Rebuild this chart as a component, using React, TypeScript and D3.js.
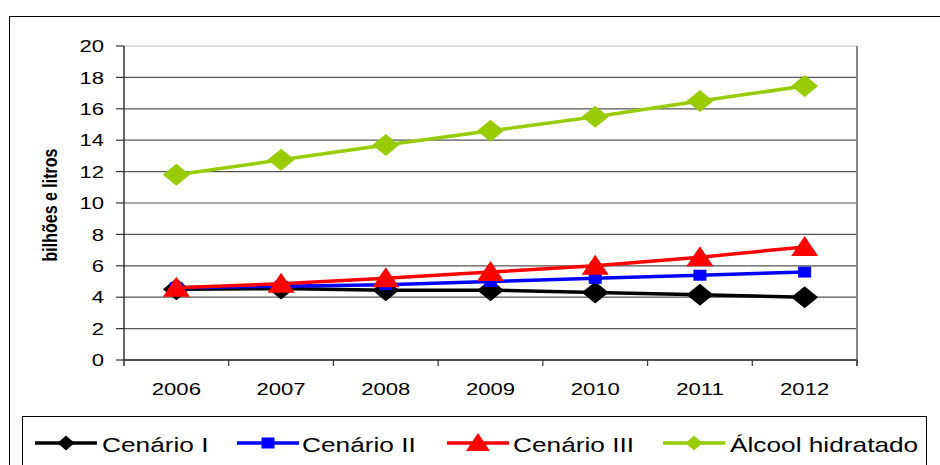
import React from 'react';
import * as d3 from 'd3';

const years = ['2006', '2007', '2008', '2009', '2010', '2011', '2012'];
const cenarioI = [4.5, 4.55, 4.45, 4.45, 4.3, 4.15, 4.0];
const cenarioII = [4.6, 4.7, 4.8, 5.0, 5.2, 5.4, 5.6];
const cenarioIII = [4.6, 4.85, 5.2, 5.6, 6.0, 6.55, 7.2];
const alcool = [11.8, 12.75, 13.7, 14.6, 15.5, 16.5, 17.45];
const yTicks = [0, 2, 4, 6, 8, 10, 12, 14, 16, 18, 20];

const series = [
  { name: 'Cenário I', values: cenarioI, color: '#000000', marker: 'diamond' },
  { name: 'Cenário II', values: cenarioII, color: '#0000ff', marker: 'square' },
  { name: 'Cenário III', values: cenarioIII, color: '#ff0000', marker: 'triangle' },
  { name: 'Álcool hidratado', values: alcool, color: '#99cc00', marker: 'diamond' },
];

const font = "'Liberation Sans', Arial, sans-serif";

// the picture is stretched horizontally, so text is too
const Txt = ({ x, y, anchor = 'start', size, sx = 1.3, children, dy = '0' }: any) => (
  <text transform={`translate(${x},${y}) scale(${sx},1)`} dy={dy} textAnchor={anchor}
    fontFamily={font} fontSize={size} fill="#000">{children}</text>
);

const Marker = ({ type, x, y, color, w, h }: { type: string; x: number; y: number; color: string; w: number; h: number }) => {
  if (type === 'diamond') {
    return <path d={`M${x - w},${y}L${x},${y - h}L${x + w},${y}L${x},${y + h}Z`} fill={color} />;
  }
  if (type === 'square') {
    return <rect x={x - w} y={y - h} width={w * 2} height={h * 2} fill={color} />;
  }
  return <path d={`M${x},${y - h * 1.1}L${x + w},${y + h * 0.9}L${x - w},${y + h * 0.9}Z`} fill={color} />;
};

const sizes: any = {
  diamond: [13.5, 11],
  square: [6.5, 5.5],
  triangle: [13.5, 10],
};
const legendSizes: any = {
  diamond: [8.5, 7.5],
  square: [6.5, 5.5],
  triangle: [12, 9],
};

const App = () => {
  const left = 124, right = 857, top = 46, bottom = 360;

  const x = d3.scaleBand().domain(years).range([left, right]);
  const y = d3.scaleLinear().domain([0, 20]).range([bottom, top]);
  const cx = (i: number) => (x(years[i]) as number) + x.bandwidth() / 2;

  const line = d3.line<number>()
    .x((_, i) => cx(i))
    .y(d => y(d));

  const legendItems = [
    { lx: 35, tx: 102 },
    { lx: 237, tx: 302 },
    { lx: 447, tx: 513 },
    { lx: 663, tx: 730 },
  ];

  return (
    <svg width={940} height={465} style={{ position: 'absolute', left: 0, top: 0 }}>
      <rect x={0} y={0} width={940} height={465} fill="#fff" />
      <rect x={9.5} y={16.5} width={940} height={460} fill="none" stroke="#000" />

      {/* gridlines */}
      {yTicks.map(t => (
        <line key={t} x1={left} x2={right} y1={y(t)} y2={y(t)} stroke={t === 20 ? '#bbb' : '#555'} strokeWidth={1.2} />
      ))}
      <line x1={right} x2={right} y1={top} y2={bottom + 6} stroke="#888" strokeWidth={2} />

      {/* axes */}
      <line x1={left} x2={left} y1={top} y2={bottom + 6} stroke="#333" strokeWidth={1.5} />
      <line x1={left} x2={right} y1={bottom} y2={bottom} stroke="#333" strokeWidth={1.5} />
      {yTicks.map(t => (
        <g key={t}>
          <line x1={left - 8} x2={left} y1={y(t)} y2={y(t)} stroke="#333" strokeWidth={1.2} />
          <Txt x={104} y={y(t)} dy="0.36em" anchor="end" size={17}>{t}</Txt>
        </g>
      ))}
      {years.map((yr, i) => (
        <g key={yr}>
          <line x1={(x(yr) as number) + x.bandwidth()} x2={(x(yr) as number) + x.bandwidth()} y1={bottom} y2={bottom + 6} stroke="#333" strokeWidth={1.2} />
          <Txt x={cx(i)} y={395} anchor="middle" size={17}>{yr}</Txt>
        </g>
      ))}

      <text transform="translate(57,205) scale(1.3,1) rotate(-90)" textAnchor="middle" fontFamily={font} fontSize={16} fontWeight="bold" fill="#000">bilhões e litros</text>

      {/* series */}
      {series.map(s => (
        <g key={s.name}>
          <path d={line(s.values) as string} fill="none" stroke={s.color} strokeWidth={3.5} />
          {s.values.map((v, i) => (
            <Marker key={i} type={s.marker} x={cx(i)} y={y(v)} color={s.color} w={sizes[s.marker][0]} h={sizes[s.marker][1]} />
          ))}
        </g>
      ))}

      {/* legend */}
      <rect x={22.5} y={416.5} width={904} height={60} fill="#fff" stroke="#000" />
      {series.map((s, i) => (
        <g key={s.name}>
          <line x1={legendItems[i].lx} x2={legendItems[i].lx + 62} y1={443} y2={443} stroke={s.color} strokeWidth={3.5} />
          <Marker type={s.marker} x={legendItems[i].lx + 31} y={443} color={s.color} w={legendSizes[s.marker][0]} h={legendSizes[s.marker][1]} />
          <Txt x={legendItems[i].tx} y={451.5} size={21} sx={1.25}>{s.name}</Txt>
        </g>
      ))}
    </svg>
  );
};

export default App;
